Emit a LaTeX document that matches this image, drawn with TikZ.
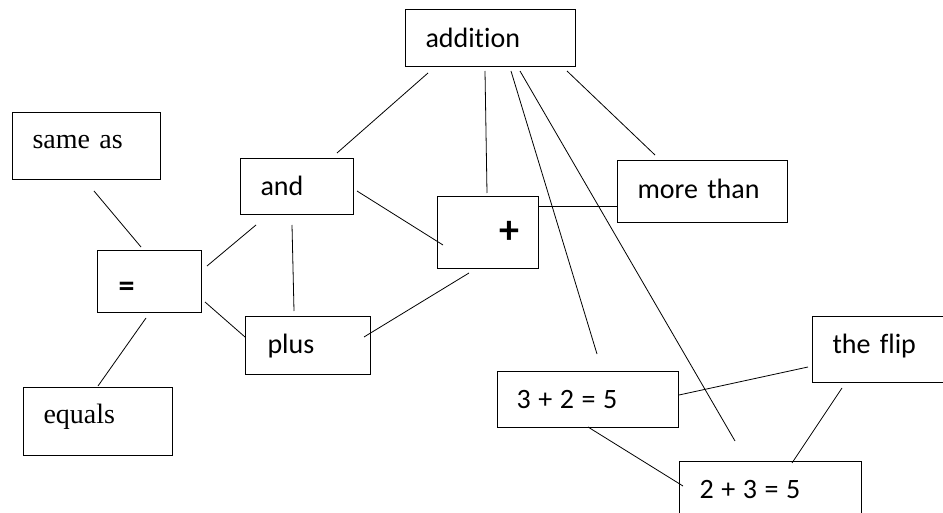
\documentclass[tikz,border=0pt]{standalone}
\usepackage{fontspec}
\setmainfont{Carlito}[Ligatures=NoCommon]
\newfontfamily\serifface{Liberation Serif}[Ligatures=NoCommon]
\newcommand\tightspaces{\spaceskip=0.27em\relax}
\begin{document}
\begin{tikzpicture}[x=1pt,y=-1pt,
  box/.style={draw, line width=1pt, rectangle, anchor=north west, inner ysep=0pt,
    align=left, font=\fontsize{28}{30}\selectfont},
  sbox/.style={box, font=\fontsize{28}{30}\selectfont\serifface},
  link/.style={line width=0.8pt}]
\useasboundingbox (0,0) rectangle (943,513);
\clip (0,0) rectangle (943,513);

% boxes
\node[sbox, inner xsep=20pt, text width=108pt, text height=36pt, text depth=31pt] (sameas) at (12,112) {same as};
\node[box, inner xsep=21pt, text width=62pt, text height=46pt, text depth=16pt,
  font=\fontsize{32}{34}\selectfont\bfseries] (eq) at (97,250) {=};
\node[box, inner xsep=20pt, text width=73pt, text height=37pt, text depth=19pt] (and) at (240,158) {and};
\node[box, inner xsep=22pt, text width=81pt, text height=37pt, text depth=21pt] (plus) at (245,316) {plus};
\node[sbox, inner xsep=20pt, text width=109pt, text height=36pt, text depth=32pt] (equals) at (23,387) {equals};
\node[box, inner xsep=20pt, text width=130pt, text height=38pt, text depth=19pt] (addition) at (405,9) {addition};
\node[box, align=right, inner xsep=19pt, text width=63pt, text height=47pt, text depth=25pt,
  font=\fontsize{40}{42}\selectfont\bfseries] (plussign) at (437,196) {+};
\node[box, inner xsep=20pt, text width=130pt, text height=38pt, text depth=24pt] (morethan) at (617,160) {more than};
\node[box, inner xsep=19pt, text width=143pt, text height=37pt, text depth=19pt] (tpt) at (497,371) {\tightspaces 3 + 2 = 5};
\node[box, inner xsep=20pt, text width=110pt, text height=37pt, text depth=29pt] (flip) at (812,316) {the flip};
\node[box, inner xsep=20pt, text width=142pt, text height=37pt, text depth=23pt] (ttp) at (679,461) {\tightspaces 2 + 3 = 5};

% connector end points
\coordinate (c1a) at (94,191);   \coordinate (c1b) at (141,247);
\coordinate (c2a) at (146,318);  \coordinate (c2b) at (98,386);
\coordinate (c3a) at (207,266);  \coordinate (c3b) at (256,225);
\coordinate (c4a) at (205,302);  \coordinate (c4b) at (245,337);
\coordinate (c5a) at (292,225);  \coordinate (c5b) at (294,311);
\coordinate (c6a) at (428,73);   \coordinate (c6b) at (337,153);
\coordinate (c7a) at (357,191);  \coordinate (c7b) at (443,245);
\coordinate (c8a) at (364,337);  \coordinate (c8b) at (469,273);
\coordinate (c9a) at (485,71);   \coordinate (c9b) at (487,193);
\coordinate (c10a) at (539,206); \coordinate (c10b) at (617,206);
\coordinate (c11a) at (511,71);  \coordinate (c11b) at (597,354);
\coordinate (c12a) at (520,71);  \coordinate (c12b) at (735,441);
\coordinate (c13a) at (567,71);  \coordinate (c13b) at (655,155);
\coordinate (c14a) at (679,395); \coordinate (c14b) at (808,367);
\coordinate (c15a) at (588,427); \coordinate (c15b) at (683,486);
\coordinate (c16a) at (842,388); \coordinate (c16b) at (792,463);

\foreach \i in {1,...,16} \draw[link] (c\i a) -- (c\i b);
\end{tikzpicture}
\end{document}
